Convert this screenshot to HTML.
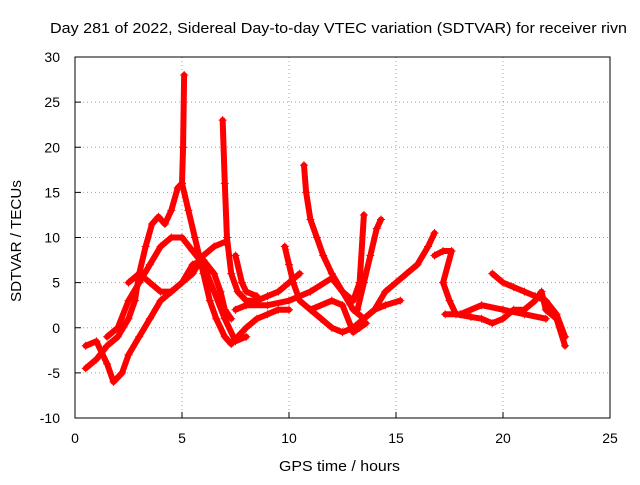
<!DOCTYPE html>
<html><head><meta charset="utf-8"><style>
body{margin:0;background:#fff;font-family:"Liberation Sans",sans-serif}
</style></head><body>
<svg width="640" height="480" xmlns="http://www.w3.org/2000/svg" font-family="Liberation Sans, sans-serif">
<rect width="640" height="480" fill="#fff"/>
<g id="grid"></g>
<g id="tracks"></g>
<rect x="75" y="57" width="535" height="361" fill="none" stroke="#000" stroke-width="1"/>
<g id="axes" font-size="14" fill="#000"></g>
<text x="50" y="33" font-size="15" textLength="577" lengthAdjust="spacingAndGlyphs">Day 281 of 2022, Sidereal Day-to-day VTEC variation (SDTVAR) for receiver rivn</text>
<text x="279" y="471" font-size="15" textLength="121" lengthAdjust="spacingAndGlyphs">GPS time / hours</text>
<text transform="translate(21,302) rotate(-90)" font-size="15" textLength="122" lengthAdjust="spacingAndGlyphs">SDTVAR / TECUs</text>
</svg>
<script>
const xTicks=[0,5,10,15,20,25];
const yTicks=[-10,-5,0,5,10,15,20,25,30];
const track1=[[0.5,-4.5],[1,-3.5],[1.5,-2],[2,-1],[2.5,1],[2.8,3],[3,6],[3.3,9],[3.6,11.5],[3.9,12.3],[4.2,11.5],[4.5,13],[4.8,15.5],[5.0,16],[5.05,20],[5.1,28]];
const track2=[[5.0,16],[5.3,13],[5.6,10],[6,6],[6.3,3],[6.6,1],[7,-1],[7.3,-1.8],[7.6,-1],[8,0],[8.5,1],[9,1.5],[9.5,2],[10,2]];
const track3=[[6.9,23],[7.0,16],[7.1,10],[7.3,6],[7.6,4],[8,3],[8.5,3],[9,3.5],[9.5,4],[10,5],[10.5,6]];
const track4=[[10.7,18],[10.8,15],[11,12],[11.3,10],[11.6,8],[12,6],[12.5,4],[13,3],[13.3,5],[13.5,12.5]];
const track5=[[13.2,2],[13.5,5],[13.8,8],[14.1,11],[14.3,12]];
const track6=[[9.8,9],[10,7],[10.2,5],[10.5,3],[11,2],[11.5,1],[12,0],[12.5,-0.5],[13,0],[13.5,1],[14,2],[14.5,4],[15,5],[15.5,6],[16,7],[16.5,9],[16.8,10.5]];
const track7=[[16.8,8],[17.2,8.5],[17.6,8.5],[17.2,5],[17.5,3],[17.8,1.5],[18.5,1.2],[19,1],[19.5,0.5],[20,1],[20.5,2],[21,2],[21.5,3],[21.8,4],[22,2],[22.5,1],[22.9,-2]];
const track8=[[19.5,6],[20,5],[20.5,4.5],[21,4],[21.5,3.5],[22,3],[22.5,1.5],[22.9,-1]];
const track9=[[17.3,1.5],[18,1.5],[19,2.5],[20,2],[21,1.5],[22,1]];
const track10=[[0.5,-2],[1,-1.5],[1.5,-4],[1.8,-6],[2.2,-5],[2.5,-3],[3,-1],[3.5,1],[4,3],[4.5,4],[5,5],[5.5,6],[6,8],[6.5,9],[7,9.5]];
const track11=[[2.5,5],[3,6],[3.5,5],[4,4],[4.5,4],[5,5],[5.5,7],[6,7.5],[6.5,6],[6.8,4],[7,2],[7.3,1]];
const track12=[[1.5,-1],[2,0],[2.5,3],[3,5],[3.5,7],[4,9],[4.5,10],[5,10],[5.5,8.5],[6,7],[6.5,4],[7,1],[7.5,-1.5],[8,-1]];
const track13=[[7.5,2],[8,2.5],[9,2.5],[10,3],[11,4],[12,5.5],[12.5,4],[13,2],[13.5,1],[14,2],[14.5,2.5],[15.2,3]];
const track14=[[7.5,8],[7.8,5],[8,4],[8.5,3.5]];
const track15=[[11,2],[12,3],[12.5,2.5],[13,-0.5],[13.3,0],[13.6,0.5]];
const tracks=[track1,track2,track3,track4,track5,track6,track7,track8,track9,track10,track11,track12,track13,track14,track15];
const NS="http://www.w3.org/2000/svg";
const X=v=>75+v*535/25, Y=v=>57+(30-v)*361/40;
const grid=document.getElementById('grid'), axes=document.getElementById('axes'), tg=document.getElementById('tracks');
function mk(t,a,p){const e=document.createElementNS(NS,t);for(const k in a)e.setAttribute(k,a[k]);p.appendChild(e);return e;}
xTicks.forEach(v=>{
 if(v>0&&v<25){const l=mk('line',{x1:X(v),x2:X(v),y1:57,y2:418,stroke:'#a0a0a0','stroke-dasharray':'1,3'},grid);
 
 }
 mk('line',{x1:X(v),x2:X(v),y1:418,y2:412,stroke:'#000'},axes);
 const t=mk('text',{x:X(v),y:443,'text-anchor':'middle'},axes);t.textContent=v;
 
 
});
yTicks.forEach(v=>{
 if(v>-10&&v<30){const l=mk('line',{x1:75,x2:610,y1:Y(v),y2:Y(v),stroke:'#a0a0a0','stroke-dasharray':'1,3'},grid);
 
 }
 mk('line',{x1:75,x2:81,y1:Y(v),y2:Y(v),stroke:'#000'},axes);
 const t=mk('text',{x:60,y:Y(v)+5,'text-anchor':'end'},axes);t.textContent=v;
 
 
});
tracks.forEach(tr=>{
 const pl=mk('polyline',{points:tr.map(p=>X(p[0])+','+Y(p[1])).join(' '),fill:'none',stroke:'#f00','stroke-width':6,'stroke-linejoin':'round','stroke-linecap':'round'},tg);
 
 
 tr.forEach(p=>{
  const c=mk('path',{d:`M${X(p[0])-4},${Y(p[1])}h8M${X(p[0])},${Y(p[1])-4}v8`,stroke:'#f00','stroke-width':1},tg);
  
  
 });
});
</script>
</body></html>
